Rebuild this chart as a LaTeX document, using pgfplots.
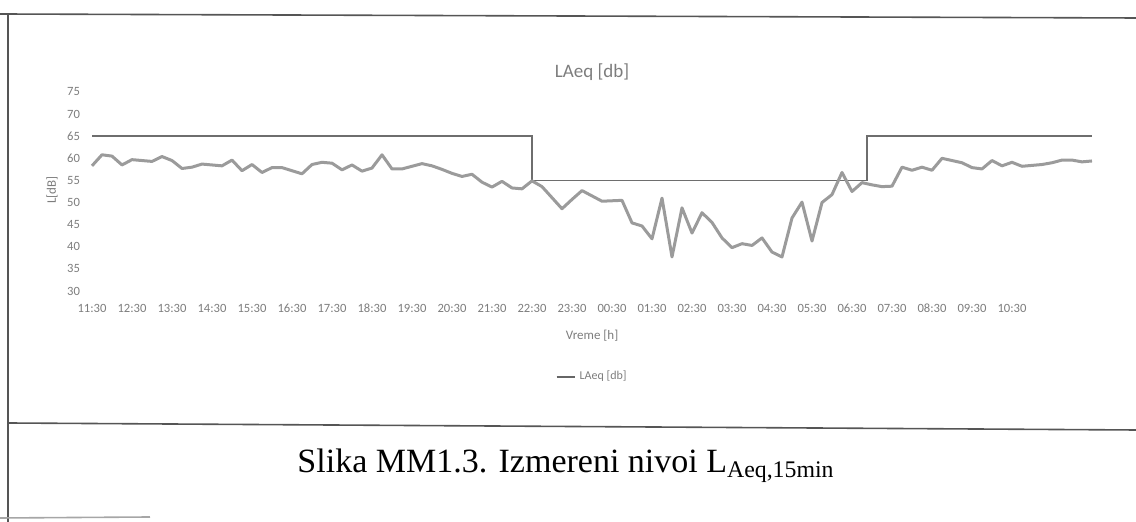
\documentclass[border=0pt]{standalone}
\usepackage{pgfplots}
\pgfplotsset{compat=1.18}
\usepackage{fontspec}
\setmainfont{Carlito}
\newfontfamily\capfont{Liberation Serif}
\definecolor{dataline}{RGB}{155,155,155}
\definecolor{limline}{RGB}{110,110,110}
\definecolor{txt}{RGB}{125,125,125}
\definecolor{framec}{RGB}{85,85,85}
\begin{document}
\begin{tikzpicture}
\begin{scope}[x=0.5pt,y=-0.5pt]
\useasboundingbox (0,0) rectangle (1136,522);
\draw[framec, line width=0.8pt] (0,14) -- (1136,18);
\draw[framec, line width=0.8pt] (8,14) -- (8,522);
\draw[framec, line width=0.8pt] (8,423) -- (1136,430);
\draw[gray!70, line width=0.8pt] (0,518) -- (150,517);
\node[font=\fontsize{9.5}{11}\selectfont, text=txt] at (592,72) {LAeq [db]};
\node[font=\fontsize{6.5}{8}\selectfont, text=txt] at (592,336) {Vreme [h]};
\node[font=\fontsize{6.5}{8}\selectfont, text=txt, rotate=90] at (52,190) {L[dB]};
\node[font=\capfont\fontsize{17}{20}\selectfont] at (566,466) {Slika MM1.3. Izmereni nivoi L\textsubscript{Aeq,15min}};
\end{scope}
\begin{axis}[
  at={(43.5pt,-145.5pt)}, anchor=south west,
  scale only axis, width=505pt, height=99.5pt,
  xmin=-0.5, xmax=100.5, ymin=30, ymax=75,
  ytick={30,35,...,75},
  xtick={0,4,...,92},
  xticklabels={11:30,12:30,13:30,14:30,15:30,16:30,17:30,18:30,19:30,20:30,21:30,22:30,23:30,00:30,01:30,02:30,03:30,04:30,05:30,06:30,07:30,08:30,09:30,10:30},
  axis line style={draw=none},
  major tick length=0pt,
  /pgf/number format/assume math mode=true,
  ticklabel style={font=\fontsize{6.3}{7}\selectfont, text=txt},
  xticklabel style={yshift=-3pt},
  legend style={draw=none, fill=none, at={(0.501,-0.432)}, anchor=center,
    font=\fontsize{6}{7}\selectfont, text=txt,
    legend image code/.code={\draw[#1,line width=1.1pt,draw=gray!80!black](0pt,0pt)--(9pt,0pt);}},
  clip=false,
]
\addplot[limline, line width=0.85pt, forget plot] coordinates {
(0,65)(44,65)(44,55)(77.5,55)(77.5,65)(100,65)};
\addplot[dataline, line width=1.5pt, line join=round] coordinates {
(0,58.3)(1,60.8)(2,60.5)(3,58.5)(4,59.7)(5,59.5)(6,59.3)(7,60.4)(8,59.5)(9,57.7)
(10,58.0)(11,58.7)(12,58.5)(13,58.3)(14,59.6)(15,57.2)(16,58.6)(17,56.8)(18,57.9)(19,57.9)
(20,57.2)(21,56.5)(22,58.6)(23,59.1)(24,58.9)(25,57.4)(26,58.5)(27,57.1)(28,57.8)(29,60.8)
(30,57.6)(31,57.6)(32,58.2)(33,58.8)(34,58.3)(35,57.5)(36,56.6)(37,55.9)(38,56.4)(39,54.6)
(40,53.5)(41,54.8)(42,53.3)(43,53.1)(44,54.9)(45,53.6)(46,51.1)(47,48.6)(48,50.7)(49,52.7)
(50,51.5)(51,50.3)(52,50.4)(53,50.5)(54,45.4)(55,44.7)(56,41.8)(57,51.0)(58,37.7)(59,48.8)
(60,43.1)(61,47.7)(62,45.5)(63,42.0)(64,39.8)(65,40.7)(66,40.3)(67,42.0)(68,38.8)(69,37.7)
(70,46.5)(71,50.1)(72,41.3)(73,50.0)(74,51.8)(75,56.8)(76,52.5)(77,54.5)(78,54.0)(79,53.6)
(80,53.7)(81,58.0)(82,57.3)(83,58.0)(84,57.3)(85,60.0)(86,59.5)(87,59.0)(88,57.9)(89,57.6)
(90,59.5)(91,58.3)(92,59.1)(93,58.2)(94,58.4)(95,58.6)(96,59.0)(97,59.6)(98,59.6)(99,59.2)
(100,59.4)};
\addlegendentry{LAeq [db]}
\end{axis}
\end{tikzpicture}
\end{document}
